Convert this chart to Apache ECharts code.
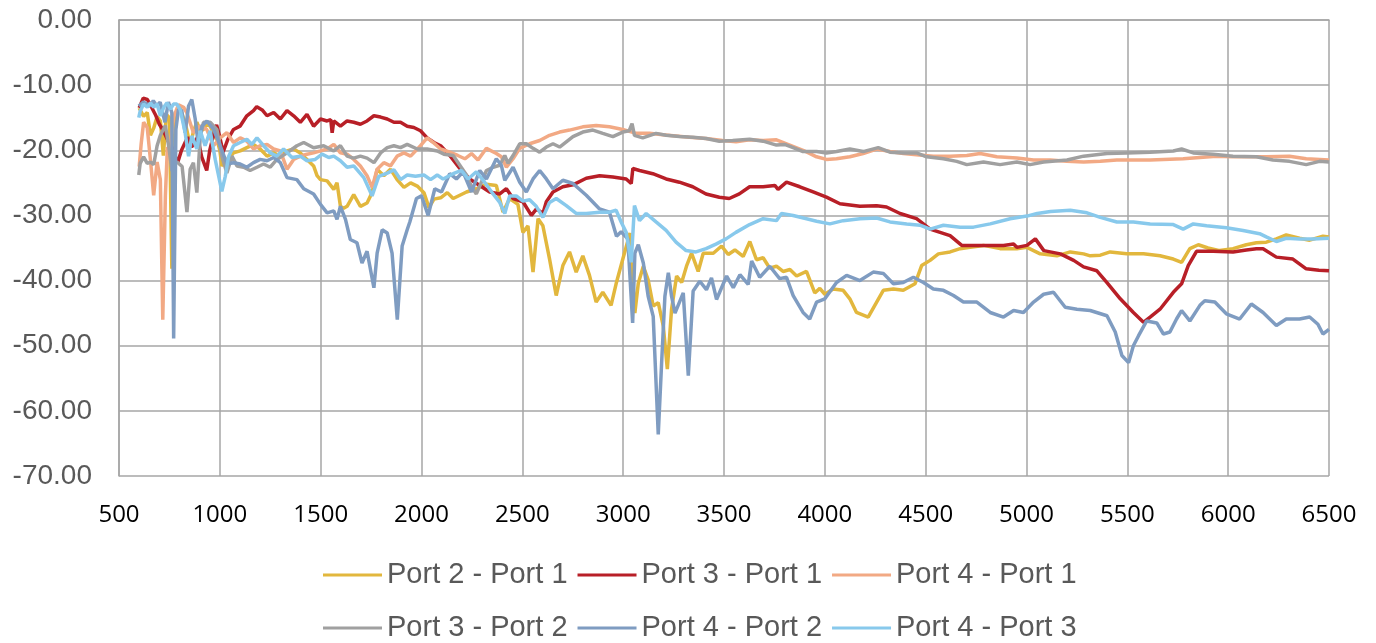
<!DOCTYPE html>
<html>
<head>
<meta charset="utf-8">
<script src="https://cdn.jsdelivr.net/npm/echarts@6/dist/echarts.min.js"></script>
<style>html,body{margin:0;padding:0;background:#fff;}#c{width:1376px;height:643px;}</style>
</head>
<body>
<div id="c"></div>
<script>
const seriesNames = ["Port 2 - Port 1","Port 3 - Port 1","Port 4 - Port 1","Port 3 - Port 2","Port 4 - Port 2","Port 4 - Port 3"];
const seriesColors = ["#E2B73D","#B81F27","#F2A984","#A0A0A0","#7F9CC1","#88C9EC"];
const yTicks = [0,-10,-20,-30,-40,-50,-60,-70];

const port2_port1 = [[600,-13.5],[622,-14.8],[640,-14.2],[656,-17.7],[672,-16.6],[689,-14.8],[705,-15.5],[720,-20.8],[735,-14.5],[750,-15],[762,-38.2],[770,-20],[786,-14],[803,-13.5],[830,-16],[853,-19.3],[870,-17],[886,-15.7],[903,-17],[919,-16.8],[935,-16],[952,-16.3],[970,-17.5],[985,-18.3],[1000,-20],[1010,-22.4],[1035,-21.4],[1068,-20.4],[1101,-20.1],[1134,-19.6],[1167,-19.1],[1200,-19.8],[1234,-20.9],[1267,-20.4],[1300,-20.9],[1333,-20.1],[1366,-19.8],[1399,-20.4],[1432,-21.4],[1465,-22.4],[1482,-23.9],[1499,-24.5],[1532,-24.7],[1565,-26],[1581,-25],[1598,-28.6],[1614,-28.9],[1631,-28.6],[1664,-26.8],[1697,-28.6],[1730,-28.1],[1755,-26.5],[1780,-22.9],[1813,-23.9],[1846,-22.9],[1879,-24.5],[1913,-25.7],[1946,-25],[1979,-25.5],[2012,-26.5],[2037,-28.8],[2062,-27.5],[2095,-27.3],[2128,-26.5],[2157,-27.4],[2190,-26.9],[2223,-26.4],[2272,-25.9],[2322,-25.2],[2371,-25.4],[2404,-29.5],[2437,-27.4],[2478,-28.3],[2503,-32.6],[2528,-31.6],[2553,-38.7],[2578,-30.5],[2602,-31.6],[2635,-36.7],[2668,-42.3],[2701,-37.7],[2734,-35.6],[2767,-38.7],[2800,-36.2],[2833,-39.2],[2866,-43.3],[2899,-41.8],[2940,-43.8],[2965,-40.5],[3000,-36.5],[3034,-32.7],[3058,-45],[3075,-40.4],[3100,-37.8],[3124,-39.9],[3149,-43.9],[3174,-43.4],[3199,-47],[3219,-53.6],[3240,-44.4],[3265,-39.3],[3290,-40.3],[3314,-37.8],[3339,-35.8],[3372,-38.6],[3397,-35.8],[3447,-35.8],[3488,-34.7],[3521,-36],[3554,-35.3],[3595,-36.3],[3628,-34],[3661,-36.8],[3694,-36.5],[3727,-38.1],[3760,-37.8],[3793,-38.6],[3827,-38.3],[3860,-39.3],[3909,-38.6],[3950,-41.9],[3975,-41.2],[4000,-42.1],[4041,-41.3],[4091,-41.5],[4124,-42.8],[4157,-44.9],[4215,-45.6],[4257,-43.3],[4290,-41.5],[4340,-41.3],[4389,-41.5],[4447,-40.5],[4480,-37.7],[4522,-36.9],[4563,-35.9],[4621,-35.6],[4671,-35.1],[4721,-34.9],[4787,-34.6],[4869,-35.1],[4952,-35.1],[5002,-34.9],[5068,-35.9],[5151,-36.2],[5217,-35.6],[5283,-35.9],[5316,-36.2],[5366,-36.1],[5415,-35.6],[5497,-35.9],[5580,-35.9],[5662,-36.2],[5728,-36.7],[5769,-37.2],[5810,-35.1],[5852,-34.5],[5900,-35],[5958,-35.4],[6024,-35.1],[6090,-34.5],[6140,-34.2],[6189,-34.1],[6239,-33.6],[6288,-33],[6354,-33.5],[6404,-33.8],[6470,-33.2],[6500,-33.3]];

const port3_port1 = [[600,-13.5],[620,-12],[640,-12.2],[655,-13],[680,-14.5],[700,-16],[720,-17],[750,-19],[770,-20],[790,-22],[810,-20],[840,-18],[860,-19.5],[890,-18],[910,-21],[935,-23.1],[950,-20],[970,-17.5],[984,-16.1],[1000,-18],[1016,-20.3],[1040,-18.3],[1068,-16.8],[1100,-16.3],[1134,-14.7],[1167,-13.9],[1183,-13.3],[1210,-13.8],[1234,-14.7],[1267,-14.2],[1300,-15.2],[1333,-13.9],[1366,-14.7],[1399,-15.7],[1432,-14.5],[1465,-16.3],[1499,-15.2],[1532,-15.5],[1550,-15.3],[1557,-17.3],[1565,-15.5],[1598,-16.3],[1631,-15.5],[1664,-15.7],[1697,-16],[1730,-15.5],[1764,-14.7],[1797,-14.9],[1830,-15.2],[1863,-15.7],[1896,-15.7],[1929,-16.3],[1962,-16.5],[1995,-17],[2028,-18.1],[2062,-18.8],[2095,-19.3],[2140,-20.8],[2190,-22.8],[2239,-24.4],[2289,-25.4],[2338,-26.4],[2388,-26.7],[2421,-25.9],[2454,-27.4],[2503,-27.9],[2545,-30],[2570,-29],[2602,-29.7],[2619,-27.9],[2652,-26.4],[2701,-25.6],[2751,-25.3],[2817,-24.3],[2883,-23.9],[2949,-24.1],[3015,-24.4],[3040,-25.1],[3048,-22.8],[3081,-23.1],[3147,-23.6],[3213,-24.4],[3279,-24.9],[3345,-25.6],[3411,-26.7],[3477,-27.2],[3526,-27.4],[3576,-26.7],[3627,-25.6],[3694,-25.6],[3752,-25.4],[3768,-26],[3810,-24.9],[3876,-25.6],[3942,-26.4],[4008,-27.2],[4075,-28.2],[4174,-28.6],[4257,-28.5],[4306,-28.7],[4373,-29.7],[4455,-30.5],[4522,-32.1],[4621,-33.1],[4679,-34.6],[4787,-34.6],[4886,-34.6],[4936,-34.4],[4952,-34.9],[5002,-34.6],[5044,-33.6],[5086,-35.4],[5168,-35.9],[5234,-36.9],[5283,-37.9],[5349,-38.5],[5399,-40.3],[5465,-42.8],[5530,-44.9],[5580,-46.4],[5613,-45.6],[5662,-44.4],[5728,-41.8],[5769,-40.5],[5802,-37.7],[5843,-35.5],[5926,-35.5],[6024,-35.6],[6090,-35.3],[6140,-35.1],[6173,-35.1],[6239,-36.4],[6321,-36.7],[6387,-38.2],[6450,-38.4],[6500,-38.5]];

const port4_port1 = [[600,-22.5],[610,-19],[622,-15.7],[640,-16.5],[656,-21.5],[672,-26.9],[689,-21.8],[705,-24.5],[717,-46],[730,-27],[740,-19.5],[750,-20.2],[770,-15],[795,-13],[820,-13.4],[836,-14.2],[869,-17.3],[900,-16.3],[935,-16.8],[969,-19.3],[1002,-18.1],[1035,-17.3],[1068,-18.8],[1101,-18.1],[1134,-18.6],[1167,-19.8],[1200,-19.3],[1234,-19.1],[1267,-19.8],[1300,-20.1],[1333,-22.9],[1366,-21.4],[1399,-20.9],[1432,-20.6],[1465,-20.4],[1499,-20.1],[1532,-19.8],[1565,-19.1],[1598,-20.4],[1631,-20.6],[1664,-21.4],[1697,-22.4],[1730,-23.9],[1755,-25.7],[1780,-22.9],[1813,-21.9],[1846,-22.4],[1879,-20.9],[1913,-20.4],[1946,-20.9],[1995,-19.3],[2028,-18.1],[2062,-18.9],[2095,-19.8],[2140,-20.3],[2180,-20.8],[2215,-21.3],[2248,-20.5],[2280,-21.5],[2322,-19.7],[2371,-20.5],[2396,-21],[2421,-22.6],[2454,-21.3],[2487,-19.7],[2536,-19],[2586,-18.5],[2635,-17.7],[2685,-17.2],[2734,-16.9],[2800,-16.4],[2866,-16.2],[2932,-16.4],[2998,-16.8],[3064,-17.4],[3130,-17.4],[3196,-17.6],[3262,-17.8],[3328,-18],[3411,-18.2],[3493,-18.5],[3560,-18.7],[3627,-18.4],[3694,-18.5],[3760,-18.4],[3826,-19.2],[3892,-20],[3959,-21],[4008,-21.4],[4058,-21.3],[4124,-21],[4190,-20.5],[4257,-19.8],[4323,-20.2],[4389,-20.5],[4455,-20.7],[4538,-20.9],[4621,-20.9],[4704,-20.8],[4770,-20.5],[4853,-21],[4952,-21.2],[5035,-21.5],[5118,-21.5],[5200,-21.7],[5283,-21.8],[5366,-21.7],[5448,-21.5],[5613,-21.5],[5777,-21.3],[5942,-20.9],[6024,-21],[6189,-21],[6304,-20.9],[6387,-21.3],[6500,-21.5]];

const port3_port2 = [[598,-23.8],[605,-22],[622,-21],[640,-22],[656,-21.8],[672,-22.2],[689,-19.3],[705,-17.7],[730,-16.2],[747,-19.5],[763,-23.2],[775,-22],[788,-21.8],[813,-22.5],[837,-29.5],[853,-22.9],[869,-21.9],[886,-26.5],[903,-17.9],[919,-15.7],[952,-15.7],[985,-16.8],[1010,-20.9],[1035,-23.5],[1060,-20.9],[1085,-22.4],[1118,-22.6],[1150,-23.1],[1184,-22.6],[1217,-22.1],[1250,-22.6],[1283,-21.4],[1333,-20.4],[1382,-19.3],[1416,-18.8],[1465,-19.6],[1515,-19.3],[1565,-20.1],[1598,-19.3],[1631,-20.9],[1664,-21.2],[1697,-20.9],[1730,-21.2],[1764,-21.9],[1797,-20.4],[1830,-19.6],[1863,-19.3],[1896,-19.6],[1929,-19.1],[1979,-19.8],[2028,-19.8],[2078,-20.1],[2111,-20.6],[2157,-20.8],[2190,-22.3],[2223,-23.8],[2248,-25.6],[2272,-26.7],[2297,-24.9],[2322,-23.1],[2355,-22.6],[2388,-22.3],[2413,-20.8],[2429,-22],[2454,-20.8],[2487,-19],[2520,-19],[2553,-19.7],[2586,-20.3],[2619,-19.5],[2652,-19],[2685,-19.5],[2718,-18.7],[2751,-17.9],[2800,-17.2],[2850,-16.9],[2899,-17.4],[2949,-17.9],[2998,-17.2],[3030,-17],[3044,-15.9],[3056,-17.7],[3097,-18.1],[3163,-17.4],[3213,-17.7],[3279,-17.9],[3345,-18],[3411,-18.2],[3477,-18.6],[3543,-18.5],[3627,-18.3],[3694,-18.6],[3760,-19.2],[3800,-19.1],[3843,-19.6],[3892,-20.2],[3959,-20.2],[4008,-20.4],[4058,-20.2],[4124,-19.8],[4190,-20.2],[4265,-19.6],[4323,-20.3],[4389,-20.4],[4455,-20.4],[4505,-21],[4588,-21.3],[4654,-21.7],[4704,-22.2],[4787,-21.8],[4869,-22.2],[4952,-21.8],[5018,-22.2],[5085,-21.8],[5201,-21.5],[5283,-20.9],[5399,-20.5],[5497,-20.4],[5613,-20.3],[5728,-20.1],[5769,-19.8],[5827,-20.4],[5926,-20.6],[6024,-20.9],[6140,-21],[6222,-21.5],[6304,-21.7],[6387,-22.2],[6453,-21.7],[6500,-21.8]];

const port4_port2 = [[598,-13.2],[621,-12.6],[654,-13.2],[670,-12.4],[687,-13.2],[704,-12.6],[728,-15.7],[745,-12.6],[762,-14.2],[771,-48.9],[782,-16.8],[795,-13.7],[811,-13.9],[828,-17.3],[845,-13.2],[861,-12.2],[878,-15.2],[894,-19.3],[911,-16.3],[936,-15.5],[969,-16.8],[1002,-19.3],[1035,-22.1],[1068,-21.9],[1101,-22.1],[1134,-22.6],[1167,-21.9],[1200,-21.4],[1234,-21.6],[1267,-21.1],[1300,-21.9],[1333,-24.2],[1382,-24.5],[1416,-25.9],[1465,-26.7],[1499,-28.3],[1532,-29.6],[1565,-29.3],[1581,-30.6],[1598,-28.6],[1623,-30.6],[1647,-33.7],[1680,-34.2],[1705,-37.3],[1730,-35.5],[1764,-41.1],[1780,-35.8],[1805,-32.2],[1830,-32.7],[1854,-35.8],[1880,-46],[1904,-34.7],[1929,-32.2],[1942,-31],[1975,-27.4],[2000,-27],[2033,-30],[2066,-25.9],[2099,-26.4],[2140,-23.6],[2173,-24.4],[2206,-23.3],[2248,-26.4],[2289,-23.1],[2322,-24.4],[2371,-21.3],[2396,-22.3],[2413,-24.6],[2454,-22.6],[2487,-24.9],[2520,-26.4],[2553,-24.4],[2586,-23.1],[2619,-24.4],[2652,-25.9],[2701,-24.6],[2751,-25.1],[2817,-26.9],[2883,-29],[2932,-29.5],[2967,-33.2],[2990,-32.5],[3023,-33.6],[3047,-46.5],[3058,-35.8],[3075,-34.5],[3100,-37.3],[3124,-42.4],[3149,-45.5],[3174,-63.6],[3190,-53.1],[3207,-42.4],[3224,-38.8],[3240,-42.4],[3257,-45],[3298,-41.9],[3323,-54.6],[3347,-41.6],[3380,-40.1],[3413,-41.4],[3438,-39.6],[3463,-42.9],[3513,-39.3],[3546,-41.1],[3579,-39.1],[3620,-40.6],[3637,-37],[3677,-39.5],[3727,-37.8],[3776,-39.7],[3810,-39.5],[3843,-42.3],[3892,-44.9],[3925,-45.9],[3959,-43.3],[4000,-42.8],[4058,-40.3],[4108,-39.2],[4174,-40],[4240,-38.7],[4290,-38.9],[4340,-40.5],[4389,-40.3],[4439,-39.5],[4489,-40.3],[4538,-41.3],[4588,-41.5],[4638,-42.3],[4687,-43.3],[4754,-43.3],[4820,-44.9],[4886,-45.6],[4936,-44.6],[4985,-44.9],[5035,-43.3],[5085,-42.1],[5134,-41.8],[5192,-44.1],[5250,-44.4],[5316,-44.6],[5399,-45.4],[5440,-47.9],[5473,-51.5],[5506,-52.6],[5530,-50],[5555,-48.5],[5596,-46.2],[5646,-46.5],[5679,-48.2],[5711,-47.9],[5744,-45.9],[5769,-44.6],[5810,-46.2],[5860,-43.8],[5884,-43.1],[5934,-43.3],[5991,-45.1],[6057,-45.9],[6115,-43.6],[6173,-44.9],[6239,-46.9],[6288,-45.9],[6354,-45.9],[6404,-45.6],[6445,-46.7],[6470,-48.2],[6500,-47.5]];

const port4_port3 = [[598,-15],[605,-14],[622,-12.9],[640,-13.4],[656,-12.7],[672,-13.4],[689,-12.9],[705,-14.7],[722,-13.4],[738,-12.7],[755,-13.7],[770,-12.9],[786,-12.9],[803,-13.7],[828,-17.3],[845,-20.9],[861,-17.8],[886,-19.8],[903,-17],[927,-19.3],[952,-17],[977,-21.4],[1010,-26.3],[1027,-24],[1043,-21],[1068,-19.3],[1101,-18.8],[1134,-18.3],[1159,-19.1],[1184,-18.1],[1217,-19.3],[1250,-20.4],[1283,-20.9],[1316,-19.8],[1358,-21.1],[1399,-20.9],[1432,-21.6],[1473,-21.4],[1507,-20.6],[1540,-21.1],[1565,-20.9],[1598,-21.6],[1631,-22.6],[1664,-22.4],[1714,-24.2],[1755,-27],[1788,-24],[1830,-23.5],[1863,-23],[1896,-24.5],[1929,-23.8],[1970,-24],[2012,-23.8],[2045,-24.5],[2078,-23.8],[2107,-24.4],[2157,-23.6],[2198,-23.1],[2231,-24.4],[2272,-23.3],[2313,-24.9],[2355,-26.7],[2388,-28],[2413,-29.7],[2437,-27],[2470,-27],[2503,-27.8],[2536,-27.6],[2569,-28.6],[2602,-30.3],[2635,-28],[2668,-27.4],[2718,-28.5],[2767,-29.7],[2817,-29.7],[2883,-29.5],[2932,-29.5],[2965,-29.2],[2990,-31],[3015,-32.6],[3040,-37.2],[3056,-28.5],[3081,-30.8],[3114,-29.7],[3163,-31],[3213,-32.3],[3262,-34.1],[3312,-35.4],[3361,-35.6],[3411,-35.1],[3460,-34.4],[3510,-33.6],[3559,-32.6],[3627,-31.4],[3694,-30.5],[3760,-30.8],[3785,-29.7],[3843,-30],[3909,-30.5],[3959,-30.9],[4025,-31.3],[4091,-30.8],[4174,-30.5],[4257,-30.4],[4323,-31],[4406,-31.3],[4472,-31.5],[4522,-32.1],[4588,-31.5],[4671,-31.8],[4737,-31.8],[4820,-31.3],[4919,-30.5],[5002,-30.1],[5053,-29.7],[5119,-29.4],[5217,-29.2],[5300,-29.6],[5366,-30.3],[5448,-31],[5530,-31],[5613,-31.3],[5728,-31.4],[5777,-32.1],[5827,-31.3],[5893,-31.6],[5991,-31.9],[6074,-32.3],[6156,-32.8],[6189,-33.3],[6239,-34],[6288,-33.5],[6354,-33.6],[6420,-33.6],[6500,-33.5]];

const allData = [port2_port1, port3_port1, port4_port1, port3_port2, port4_port2, port4_port3];

const chart = echarts.init(document.getElementById('c'), null, {renderer: 'canvas'});
const gridColor = '#A6A6A6';
const legendText = {fontFamily: 'Liberation Sans, Arial, sans-serif', fontSize: 29, color: '#595959', lineHeight: 32};
const legendIcon = 'path://M0,6 L59,6 L59,9 L0,9 Z';
const option = {
  animation: false,
  backgroundColor: '#ffffff',
  grid: {left: 119, right: 47, top: 20, bottom: 167, containLabel: false},
  xAxis: {
    type: 'value', min: 500, max: 6500, interval: 500,
    axisLine: {show: true, lineStyle: {color: gridColor, width: 1.5}},
    axisTick: {show: false},
    splitLine: {show: true, lineStyle: {color: gridColor, width: 1.5}},
    axisLabel: {margin: 27, fontFamily: 'Open Sans, sans-serif', fontSize: 24, color: '#000000',
      formatter: v => String(v)}
  },
  yAxis: {
    type: 'value', min: -70, max: 0, interval: 10,
    axisLine: {show: true, lineStyle: {color: gridColor, width: 1.5}},
    axisTick: {show: false},
    splitLine: {show: true, lineStyle: {color: gridColor, width: 1.5}},
    axisLabel: {margin: 27, fontFamily: 'Liberation Sans, Arial, sans-serif', fontSize: 28, color: '#595959',
      formatter: v => (yTicks.indexOf(v) >= 0 ? v.toFixed(2) : '')}
  },
  legend: [
    {data: seriesNames.slice(0, 3), left: 318, top: 554, orient: 'horizontal', itemWidth: 59, itemHeight: 14, itemGap: 10, textStyle: legendText, icon: legendIcon},
    {data: seriesNames.slice(3, 6), left: 318, top: 607, orient: 'horizontal', itemWidth: 59, itemHeight: 14, itemGap: 10, textStyle: legendText, icon: legendIcon}
  ],
  series: seriesNames.map((name, i) => ({
    name: name, type: 'line', data: allData[i], showSymbol: false, symbol: 'none',
    smooth: false, color: seriesColors[i],
    lineStyle: {width: 3.5, color: seriesColors[i]}, z: 2 + i
  }))
};
chart.setOption(option);
</script>
</body>
</html>
